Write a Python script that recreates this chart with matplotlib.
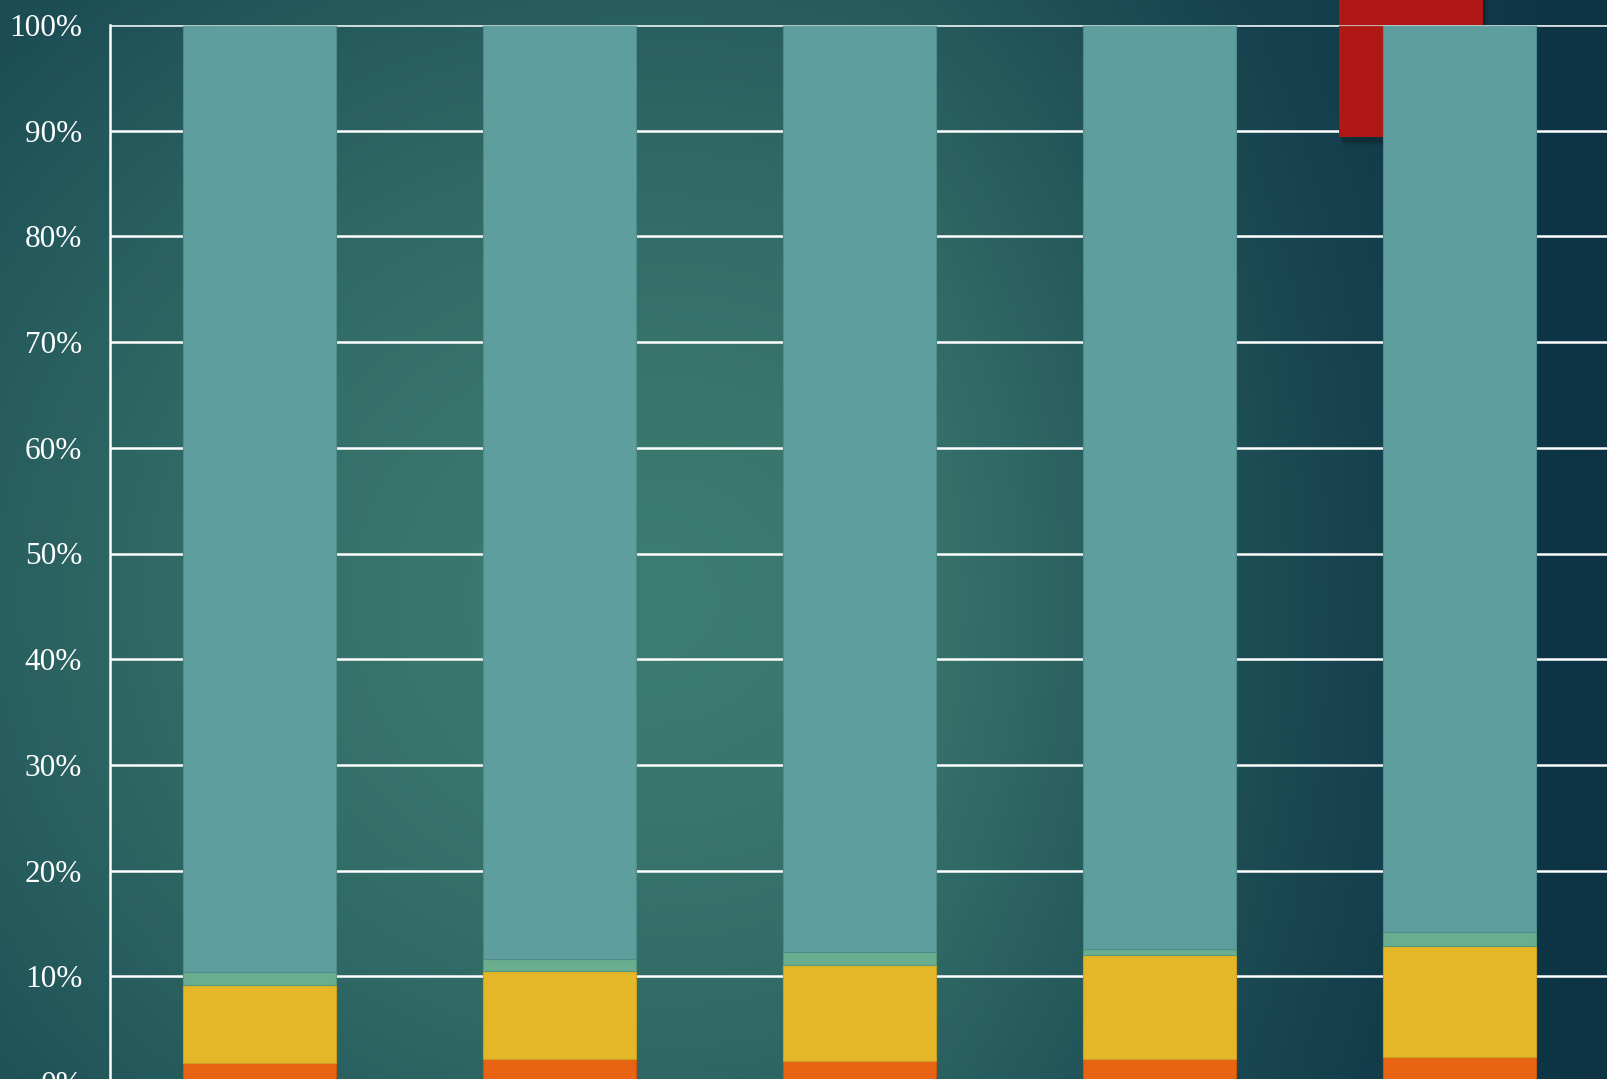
import matplotlib.pyplot as plt
import numpy as np
from matplotlib.patches import Rectangle

# share of each part per group, bottom to top (percent)
groups = ['1', '2', '3', '4', '5']
orange = [1.8, 2.2, 2.0, 2.2, 2.4]
yellow = [7.4, 8.3, 9.1, 9.8, 10.5]
green = [1.2, 1.1, 1.2, 0.6, 1.3]
teal = [100 - o - y - g for o, y, g in zip(orange, yellow, green)]

yticks = list(range(0, 101, 10))
ytick_labels = [f'{v}%' for v in yticks]

colors = {'orange': '#e86413', 'yellow': '#e4b728', 'green': '#6aae8f', 'teal': '#5f9e9e'}
edges = {'orange': '#c9560f', 'yellow': '#c9a024', 'green': '#559a7c', 'teal': '#4f8b8b'}

W, H = 1608, 1079
fig = plt.figure(figsize=(W / 100, H / 100), dpi=100)

# background: soft radial teal glow, darker blue towards the right
bg = fig.add_axes([0, 0, 1, 1])
xx, yy = np.meshgrid(np.arange(W), np.arange(H))
d = np.clip(np.sqrt(((xx - 650) / 900) ** 2 + ((yy - 600) / 800) ** 2), 0, 1) ** 1.5
c_mid = np.array([61, 124, 112]) / 255
c_edge = np.array([28, 77, 85]) / 255
c_right = np.array([13, 51, 69]) / 255
img = c_mid + (c_edge - c_mid) * d[..., None]
t = np.clip((xx - 900) / 700, 0, 1) ** 1.2
img = img + (c_right - img) * t[..., None]
bg.imshow(img, aspect='auto', extent=[0, 1, 0, 1])
bg.axis('off')

ax = fig.add_axes([110 / W, 1 - 1082 / H, 1500 / W, 1057 / H])
ax.set_facecolor('none')

x = np.arange(len(groups))
width = 0.51

# red tab peeking out behind the last bar, with a soft shadow
tab_x0, tab_x1, tab_y0, tab_y1 = 3.597, 4.077, 89.4, 106
for k, a in enumerate([0.10, 0.08, 0.06]):
    ax.add_patch(Rectangle((tab_x0 + 0.006 + k * 0.004, tab_y0 - 0.45 - k * 0.25),
                           tab_x1 - tab_x0, tab_y1 - tab_y0,
                           facecolor='black', alpha=a, lw=0, zorder=0.5, clip_on=False))
ax.add_patch(Rectangle((tab_x0, tab_y0), tab_x1 - tab_x0, tab_y1 - tab_y0,
                       facecolor='#b01815', lw=0, zorder=1, clip_on=False))

bottom = np.zeros(len(groups))
for name, vals in [('orange', orange), ('yellow', yellow), ('green', green), ('teal', teal)]:
    ax.bar(x, vals, width, bottom=bottom, color=colors[name],
           edgecolor=edges[name], linewidth=0.8, zorder=3)
    bottom += np.array(vals)

ax.set_xlim(-0.5, 4.5)
ax.set_ylim(0, 100)
ax.set_yticks(yticks)
ax.set_yticklabels(ytick_labels, family='Liberation Serif', fontsize=22.5, color='white')
ax.tick_params(axis='y', length=0, pad=20)
ax.set_xticks(x)
ax.set_xticklabels([])
ax.tick_params(axis='x', length=0)

ax.yaxis.grid(True, color='white', linewidth=1.8, zorder=2)
ax.set_axisbelow(True)
ax.axhline(100, color='#c8d6d6', linewidth=1.6, alpha=0.8, zorder=4)
for s in ['top', 'right', 'bottom']:
    ax.spines[s].set_visible(False)
ax.spines['left'].set_color('white')
ax.spines['left'].set_linewidth(1.8)
ax.spines['left'].set_zorder(4)

plt.savefig('out.png', dpi=100)
